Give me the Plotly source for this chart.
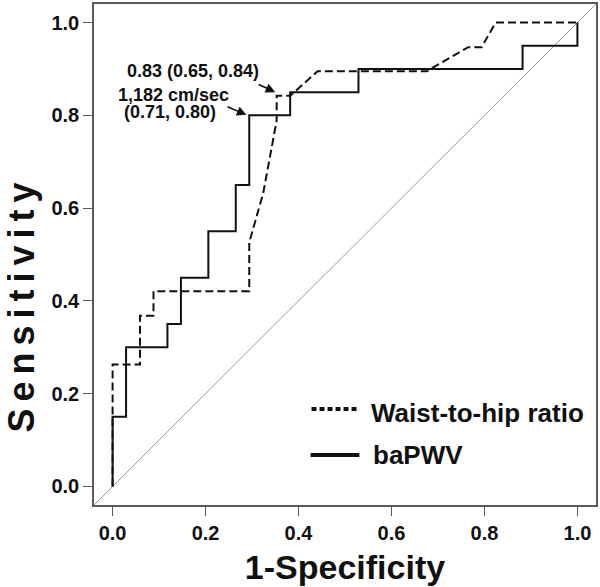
import plotly.graph_objects as go

# ROC data (1-specificity, sensitivity)
bapwv_fpr = [0, 0, 0.029, 0.029, 0.118, 0.118, 0.147, 0.147, 0.206, 0.206, 0.265, 0.265,
             0.294, 0.294, 0.382, 0.382, 0.529, 0.529, 0.882, 0.882, 1.0, 1.0]
bapwv_tpr = [0, 0.15, 0.15, 0.30, 0.30, 0.35, 0.35, 0.45, 0.45, 0.55, 0.55, 0.65,
             0.65, 0.80, 0.80, 0.85, 0.85, 0.90, 0.90, 0.95, 0.95, 1.0]

whr_fpr = [0, 0, 0.059, 0.059, 0.088, 0.088, 0.294, 0.294, 0.324, 0.353, 0.353, 0.382,
           0.441, 0.676, 0.765, 0.794, 0.824, 1.0]
whr_tpr = [0, 0.263, 0.263, 0.368, 0.368, 0.421, 0.421, 0.526, 0.632, 0.789, 0.842, 0.842,
           0.895, 0.895, 0.947, 0.947, 1.0, 1.0]

tick_vals = [0, 0.2, 0.4, 0.6, 0.8, 1.0]
tick_text = ["0.0", "0.2", "0.4", "0.6", "0.8", "1.0"]

FONT = "Liberation Sans"
AX = "#5a5a5a"

fig = go.Figure()

# reference diagonal
fig.add_trace(go.Scatter(x=[-0.04, 1.04], y=[-0.04, 1.04], mode="lines",
                         line=dict(color="#9a9a9a", width=1), showlegend=False, hoverinfo="skip"))

fig.add_trace(go.Scatter(x=whr_fpr, y=whr_tpr, mode="lines", name="Waist-to-hip ratio",
                         line=dict(color="#111111", width=2, dash="8px,4px"), showlegend=False))
fig.add_trace(go.Scatter(x=bapwv_fpr, y=bapwv_tpr, mode="lines", name="baPWV",
                         line=dict(color="#111111", width=2), showlegend=False))

# manual legend
fig.add_shape(type="line", xref="x", yref="y", x0=0.428, x1=0.531, y0=0.167, y1=0.167,
              line=dict(color="#111111", width=4, dash="5px,3px"))
fig.add_shape(type="line", xref="x", yref="y", x0=0.426, x1=0.531, y0=0.068, y1=0.068,
              line=dict(color="#111111", width=4))
fig.add_annotation(x=0.552, y=0.159, xref="x", yref="y", text="Waist-to-hip ratio",
                   showarrow=False, xanchor="left", yanchor="middle",
                   font=dict(family=FONT, size=26, color="#111111", weight="bold"))
fig.add_annotation(x=0.556, y=0.068, xref="x", yref="y", text="baPWV",
                   showarrow=False, xanchor="left", yanchor="middle",
                   font=dict(family=FONT, size=26, color="#111111", weight="bold"))

# text labels
lab_font = dict(family=FONT, size=18, color="#111111", weight="bold")
fig.add_annotation(x=0.173, y=0.895, xref="x", yref="y", text="0.83 (0.65, 0.84)",
                   showarrow=False, font=lab_font)
fig.add_annotation(x=0.131, y=0.844, xref="x", yref="y", text="1,182 cm/sec",
                   showarrow=False, font=lab_font)
fig.add_annotation(x=0.124, y=0.808, xref="x", yref="y", text="(0.71, 0.80)",
                   showarrow=False, font=lab_font)

# arrows
fig.add_annotation(x=0.350, y=0.850, ax=0.311, ay=0.868, xref="x", yref="y", axref="x", ayref="y",
                   text="", showarrow=True, arrowhead=2, arrowsize=1.2, arrowwidth=1.6,
                   arrowcolor="#111111")
fig.add_annotation(x=0.288, y=0.801, ax=0.244, ay=0.820, xref="x", yref="y", axref="x", ayref="y",
                   text="", showarrow=True, arrowhead=2, arrowsize=1.2, arrowwidth=1.6,
                   arrowcolor="#111111")

# y-axis title (placed as in the reference, slightly below plot centre)
fig.add_annotation(x=-0.1445, y=0.401, xref="paper", yref="paper",
                   text="<span style='letter-spacing:7px'>Sensitivity</span>",
                   showarrow=False, textangle=-90, xanchor="center", yanchor="middle",
                   font=dict(family=FONT, size=36, color="#111111", weight="bold"))

axis_common = dict(range=[-0.04, 1.04], tickvals=tick_vals, ticktext=tick_text,
                   ticks="outside", ticklen=9, tickcolor=AX, tickwidth=1.3,
                   showline=True, linecolor=AX, linewidth=1.5, mirror=True,
                   showgrid=False, zeroline=False,
                   tickfont=dict(family=FONT, size=20, color="#111111", weight="bold"))

fig.update_layout(
    width=600, height=587,
    margin=dict(l=94, r=2, t=2, b=82),
    paper_bgcolor="white", plot_bgcolor="white",
    xaxis=dict(**axis_common,
               title=dict(text="1-Specificity", standoff=12,
                          font=dict(family=FONT, size=34, color="#111111", weight="bold"))),
    yaxis=dict(**axis_common),
)

fig.write_html("out.html", config={"displayModeBar": False},
               post_script="document.body.style.margin='0';")
